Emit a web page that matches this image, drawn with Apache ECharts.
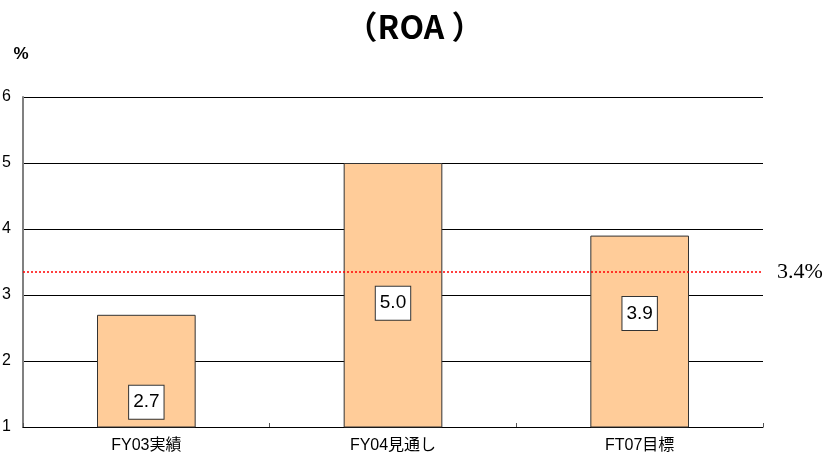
<!DOCTYPE html>
<html>
<head>
<meta charset="utf-8">
<script src="https://cdn.jsdelivr.net/npm/echarts@6/dist/echarts.min.js"></script>
<style>
  html, body { margin: 0; padding: 0; background: #fff; }
  #chart { width: 829px; height: 460px; }
</style>
</head>
<body>
<div id="chart"></div>
<script>
// データ
const categories = ['FY03実績', 'FY04見通し', 'FT07目標'];
const roaValues = [2.7, 5.0, 3.9];
const labelTexts = ['2.7', '5.0', '3.9'];
// 基準線（図では 3.4% と表記）
const refValue = 3.35;
const refLabel = '3.4%';
const yMin = 1, yMax = 6, yStep = 1;

// ラベル位置の微調整（棒の中央からのずれ）
const labelShift = [31, 8, -18];

const chart = echarts.init(document.getElementById('chart'));
const option = {
  animation: false,
  title: {
    text: '（ROA ）',
    left: 'center',
    top: 6,
    textStyle: {
      fontFamily: 'Noto Sans CJK JP',
      fontSize: 32,
      fontWeight: 'bold',
      color: '#000'
    }
  },
  grid: {
    left: 23,
    right: 66,
    top: 97,
    bottom: 33,
    containLabel: false,
    outerBoundsMode: 'none'
  },
  xAxis: {
    type: 'category',
    data: categories,
    axisLine: { lineStyle: { color: '#000', width: 1 } },
    axisTick: { show: true, inside: true, length: 4, lineStyle: { color: '#555' } },
    axisLabel: {
      color: '#000',
      fontSize: 16,
      margin: 11,
      fontFamily: 'Liberation Sans, Noto Sans CJK JP'
    }
  },
  yAxis: {
    type: 'value',
    min: yMin,
    max: yMax,
    interval: yStep,
    name: '%',
    nameLocation: 'end',
    nameGap: 34,
    nameTextStyle: {
      color: '#000',
      fontSize: 17,
      fontWeight: 'bold',
      align: 'center',
      padding: [0, 4, 0, 0],
      fontFamily: 'Liberation Sans'
    },
    axisLine: { show: true, lineStyle: { color: '#808080', width: 2 } },
    axisTick: { show: false },
    axisLabel: {
      color: '#000',
      fontSize: 16,
      margin: 12,
      fontFamily: 'Liberation Sans'
    },
    splitLine: { lineStyle: { color: '#000', width: 1 } }
  },
  series: [
    {
      type: 'bar',
      barWidth: '40%',
      data: roaValues.map(function (v, i) {
        return {
          value: v,
          label: {
            show: true,
            position: 'inside',
            offset: [0, labelShift[i]],
            formatter: labelTexts[i]
          }
        };
      }),
      itemStyle: {
        color: '#FFCC99',
        borderColor: '#333',
        borderWidth: 1
      },
      label: {
        color: '#000',
        fontSize: 19,
        fontFamily: 'Liberation Sans',
        backgroundColor: '#fff',
        borderColor: '#333',
        borderWidth: 1,
        padding: [8, 4, 6, 4]
      },
      markLine: {
        silent: true,
        symbol: 'none',
        lineStyle: { color: '#ff0000', type: [2, 2], width: 1.5 },
        label: {
          position: 'end',
          distance: 14,
          formatter: refLabel,
          color: '#000',
          fontSize: 22,
          fontFamily: 'Liberation Serif'
        },
        data: [{ yAxis: refValue }]
      }
    }
  ]
};
chart.setOption(option);
</script>
</body>
</html>
